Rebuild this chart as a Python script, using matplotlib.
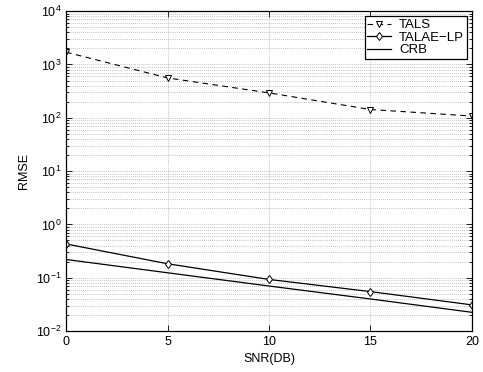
import matplotlib
matplotlib.use("Agg")
import matplotlib.pyplot as plt
import numpy as np

plt.rcParams['font.family'] = ['Liberation Sans', 'DejaVu Sans']
plt.rcParams['font.size'] = 9

snr = [0, 5, 10, 15, 20]
tals = [1700, 560, 293, 143, 108]
talae_lp = [0.43, 0.183, 0.093, 0.055, 0.031]
crb = [0.22, 0.124, 0.070, 0.040, 0.0225]

fig = plt.figure(figsize=(4.83, 3.72), dpi=100)
ax = fig.add_axes([0.137, 0.110, 0.840, 0.860])

ax.semilogy(snr, tals, 'k--v', lw=0.8, ms=5, mfc='white', mew=0.7, dashes=(5, 4), label='TALS')
ax.semilogy(snr, talae_lp, 'k-d', lw=0.9, ms=4.5, mfc='white', mew=0.7, label='TALAE\u2212LP')
ax.semilogy(snr, crb, 'k-', lw=0.9, label='CRB')

ax.set_xlim(0, 20)
ax.set_ylim(1e-2, 1e4)
ax.set_xticks([0, 5, 10, 15, 20])
ax.set_yticks([1e-2, 1e-1, 1e0, 1e1, 1e2, 1e3, 1e4])

ax.grid(True, which='major', axis='x', ls=(0, (1, 2)), color='0.55', lw=0.5)
ax.grid(True, which='both', axis='y', ls=(0, (1, 2)), color='0.55', lw=0.5)
ax.tick_params(which='both', direction='in', top=True, right=True, width=0.6)
ax.tick_params(which='major', length=4)
ax.tick_params(which='minor', length=2)
for s in ax.spines.values():
    s.set_linewidth(0.9)

ax.set_xlabel('SNR(DB)')
ax.set_ylabel('RMSE')

leg = ax.legend(loc='upper right', fancybox=False, framealpha=1, edgecolor='black',
                borderpad=0.2, labelspacing=0.02, handlelength=1.8, handletextpad=0.6,
                borderaxespad=0.4, fontsize=9.5)
leg.get_frame().set_linewidth(0.9)

fig.savefig('out.png', dpi=100)
